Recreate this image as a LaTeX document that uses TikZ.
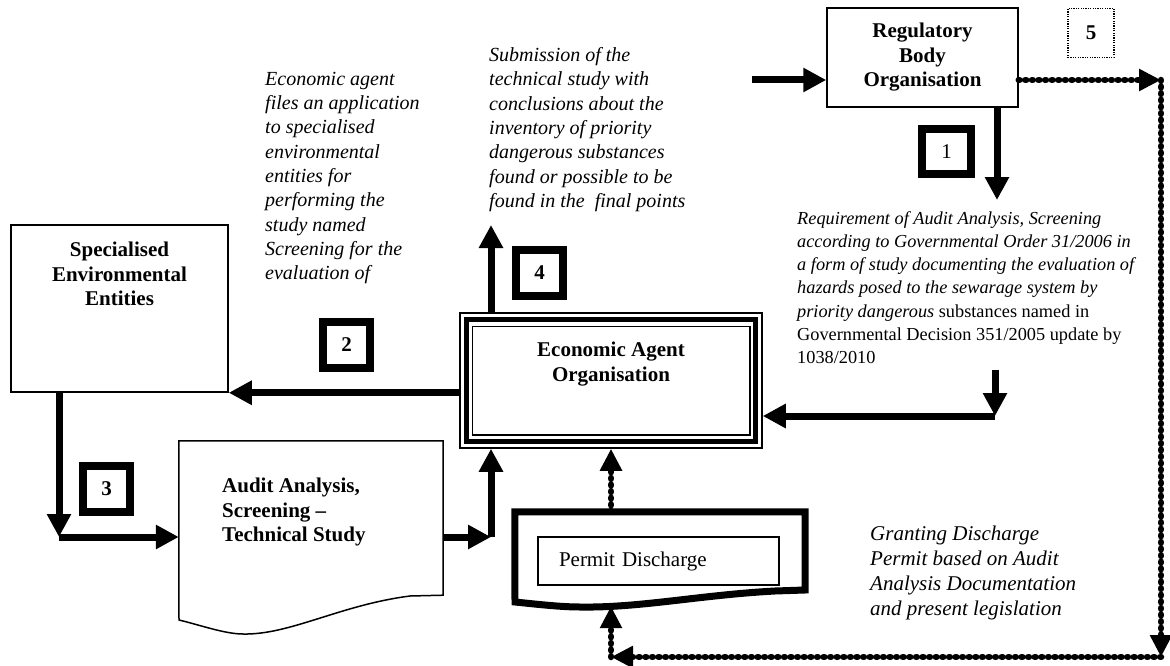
\documentclass[tikz,border=0pt]{standalone}
\usepackage{fontspec}
\setmainfont{Liberation Serif}
\usetikzlibrary{arrows.meta,calc}
\tikzset{
        entity/.style={draw=black, line width=1.5pt, inner sep=0pt},
        numbox/.style={draw=black, line width=8pt, minimum width=47pt, minimum height=46pt, inner sep=0pt, font=\fontsize{21}{24}\selectfont\bfseries},
        flow/.style={line width=7pt, -{Triangle[length=23pt, width=23pt]}},
        dotflow/.style={line width=6.5pt, line cap=round, dash pattern=on 0.8pt off 5.8pt, -{Triangle[length=22pt, width=21pt]}},
        boxtext/.style={align=center, inner sep=0pt, font=\fontsize{21}{24.5}\selectfont\bfseries},
        notetext/.style={align=left, inner sep=0pt, anchor=west, font=\fontsize{20}{24.3}\selectfont\itshape},
        docline/.style={draw=black, line width=1.5pt, line join=miter},
          }

\begin{document}
\begin{tikzpicture}[x=1pt, y=-1pt]
        \useasboundingbox (0,0) rectangle (1170,666);
        % organisations
        \node[entity, boxtext, minimum width=191pt, minimum height=99pt] (reg) at (922.5,57.5) {Regulatory\\Body\\Organisation};
        \node[entity, minimum width=217pt, minimum height=167pt] (spec) at (119.5,308.5) {};
        \node[boxtext] (spectext) at (119.5,274) {Specialised\\Environmental\\Entities};
        \node[entity, minimum width=302pt, minimum height=135pt] (eco) at (611,380.5) {};
        \draw[line width=5pt] ($(eco.north west)+(7,7)$) rectangle ($(eco.south east)+(-7,-7)$);
        \draw[line width=1.5pt] ($(eco.north west)+(13,14)$) rectangle ($(eco.south east)+(-13,-14)$);
        \node[boxtext] (ecotext) at (611,364) {Economic Agent\\Organisation};
        % documents
        \node[minimum width=264pt, minimum height=154pt, inner sep=0pt] (audit) at (311,518) {};
        \draw[docline] (audit.north west) -- (audit.north east) -- (audit.south east) -- (410,596)
          .. controls (340,605) and (290,635) .. (243,634) .. controls (225,634) and (200,625) .. (179,620) -- cycle;
        \node[boxtext, align=left, anchor=west] (audittext) at (222,512) {Audit Analysis,\\Screening --\\Technical Study};
        \node[minimum width=290pt, minimum height=94pt, inner sep=0pt] (permitdoc) at (660,559) {};
        \draw[line width=7pt, line join=miter] (permitdoc.north west) -- (permitdoc.north east) -- (805,590) -- (775,591)
          .. controls (700,595) and (640,608) .. (580,607) .. controls (560,607) and (535,604) .. (515,602) -- cycle;
        \node[entity, minimum height=48pt, text width=199pt, inner xsep=21pt, align=left, font=\fontsize{21}{24}\selectfont] (permit) at (658.5,561) {Permit Discharge};
        % step numbers
        \node[numbox, font=\fontsize{21}{24}\selectfont, minimum width=49pt, minimum height=45pt] (n1) at (946.5,151.5) {1};
        \node[numbox] (n2) at (346.5,345) {2};
        \node[numbox] (n3) at (106.5,489) {3};
        \node[numbox] (n4) at (539.5,272.5) {4};
        \node[draw, line width=1.2pt, dash pattern=on 1.2pt off 1.2pt, minimum width=46pt, minimum height=49pt, font=\fontsize{21}{24}\selectfont\bfseries] (n5) at (1091,33) {5};
        % notes
        \node[notetext] (appl) at (265,178) {Economic agent\\files an application\\to specialised\\environmental\\entities for\\performing the\\study named\\Screening for the\\evaluation of};
        \node[notetext] (subm) at (489,129.5) {Submission of the\\technical study with\\conclusions about the\\inventory of priority\\dangerous substances\\found or possible to be\\found in the\ \ final points};
        \node[notetext, font=\fontsize{18.3}{23.2}\selectfont\itshape] (req) at (797,287.5) {Requirement of Audit Analysis, Screening\\according to Governmental Order 31/2006 in\\a form of study documenting the evaluation of\\hazards posed to the sewarage system by\\priority dangerous {\upshape substances named in}\\{\upshape Governmental Decision 351/2005 update by}\\{\upshape 1038/2010}};
        \node[notetext, font=\fontsize{21}{25}\selectfont\itshape] (grant) at (870,572.5) {Granting Discharge\\Permit based on Audit\\Analysis Documentation\\and present legislation};
        % bends
        \coordinate (regin) at (752,80);
        \coordinate (req1) at (997,200);
        \coordinate (req2) at (995,370);
        \coordinate (c7) at (995,416);
        \coordinate (c1) at (1161,80);
        \coordinate (c2) at (1161,657);
        \coordinate (c3) at (611,657);
        \coordinate (c4) at (59,537);
        \coordinate (c5) at (491,537);
        \coordinate (c6) at (491,225);
        % flows
        \draw[flow] (regin) -- (regin -| reg.west);
        \draw[flow] (req1 |- reg.south) -- (req1);
        \draw[flow] (req2) -- (c7);
        \draw[flow] (c7) -- (c7 -| eco.east);
        \draw[flow] (eco.west |- spec.south east) -- (spec.south east);
        \draw[flow] (c4 |- spec.south) -- (c4);
        \draw[flow] (c4) -- (c4 -| audit.west);
        \draw[flow] (c5 -| audit.east) -- (c5);
        \draw[flow] (c5) -- (c5 |- eco.south);
        \draw[flow] (c6 |- eco.north) -- (c6);
        \draw[dotflow] (c1 -| reg.east) -- (c1);
        \draw[dotflow] (c1) -- (c2);
        \draw[dotflow] (c2) -- (c3);
        \draw[dotflow] (c3) -- (c3 |- permitdoc.south);
        \draw[dotflow] (eco.south |- permitdoc.north) -- (eco.south);
\end{tikzpicture}
\end{document}
